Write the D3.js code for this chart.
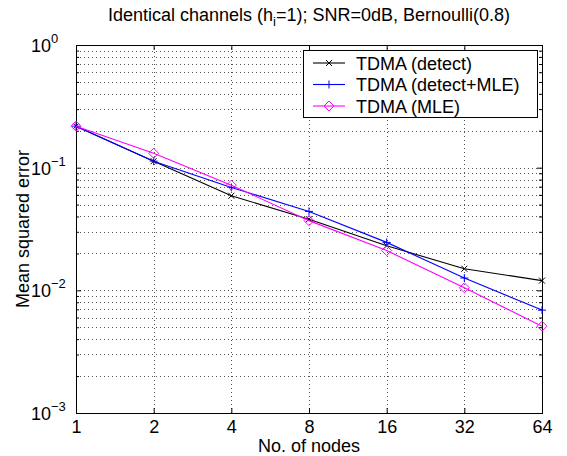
<!DOCTYPE html>
<html>
<head>
<meta charset="utf-8">
<script src="https://cdn.jsdelivr.net/npm/d3@7"></script>
<style>
  body { margin: 0; background: #fff; }
  svg { font-family: "Liberation Sans", Arial, Helvetica, sans-serif; }
  .axis path, .axis line { stroke: #000; }
</style>
</head>
<body>
<div id="chart"></div>
<script>
// data
const nodes = [1, 2, 4, 8, 16, 32, 64];
const mseDetect = [0.218, 0.113, 0.059, 0.038, 0.0231, 0.0150, 0.0120];
const mseDetectMle = [0.218, 0.113, 0.069, 0.044, 0.0246, 0.0126, 0.0069];
const mseMle = [0.218, 0.131, 0.072, 0.037, 0.0211, 0.0105, 0.0051];
const seriesNames = ['TDMA (detect)', 'TDMA (detect+MLE)', 'TDMA (MLE)'];
const yTicks = [1e-3, 1e-2, 1e-1, 1e0];
const yExponents = ['\u22123', '\u22122', '\u22121', '0'];

const width = 567, height = 456;
const margin = {top: 45, right: 25, bottom: 43, left: 76};
const fontSize = 18;

const svg = d3.select('#chart')
  .append('svg')
  .attr('width', width)
  .attr('height', height);

const x = d3.scaleLog().base(2)
  .domain([1, 64])
  .range([margin.left, width - margin.right]);

const y = d3.scaleLog()
  .domain([1e-3, 1])
  .range([height - margin.bottom, margin.top]);

const x0 = x.range()[0], x1 = x.range()[1];
const y0 = y.range()[0], y1 = y.range()[1];

// minor y values for the grid
const yMinor = [];
for (let e = -3; e < 0; e++) {
  for (let m = 2; m <= 9; m++) yMinor.push(m * Math.pow(10, e));
}

// grid
const grid = svg.append('g')
  .attr('stroke', '#555')
  .attr('stroke-width', 1)
  .attr('stroke-dasharray', '1,3');

grid.selectAll('.gx')
  .data(nodes.slice(1, -1))
  .enter()
  .append('line')
  .attr('x1', d => Math.round(x(d)) + 0.5)
  .attr('x2', d => Math.round(x(d)) + 0.5)
  .attr('y1', y0)
  .attr('y2', y1);

grid.selectAll('.gy')
  .data(yTicks.slice(1, -1).concat(yMinor))
  .enter()
  .append('line')
  .attr('x1', x0)
  .attr('x2', x1)
  .attr('y1', d => Math.round(y(d)) + 0.5)
  .attr('y2', d => Math.round(y(d)) + 0.5);

// axes with inward ticks on all sides
const bottom = svg.append('g')
  .attr('class', 'axis')
  .attr('transform', `translate(0,${y0})`)
  .call(d3.axisBottom(x).tickValues(nodes).tickFormat(d3.format('d')).tickSizeInner(-5).tickSizeOuter(0).tickPadding(7));

bottom.selectAll('text')
  .attr('font-size', fontSize)
  .attr('font-family', 'Liberation Sans, Arial, sans-serif')
  .attr('fill', '#000');

svg.append('g')
  .attr('class', 'axis')
  .attr('transform', `translate(0,${y1})`)
  .call(d3.axisTop(x).tickValues(nodes).tickFormat('').tickSizeInner(-5).tickSizeOuter(0));

svg.append('g')
  .attr('class', 'axis')
  .attr('transform', `translate(${x0},0)`)
  .call(d3.axisLeft(y).tickValues(yTicks).tickFormat('').tickSizeInner(-5).tickSizeOuter(0));

svg.append('g')
  .attr('class', 'axis')
  .attr('transform', `translate(${x0},0)`)
  .call(d3.axisLeft(y).tickValues(yMinor).tickFormat('').tickSizeInner(-3).tickSizeOuter(0))
  .select('.domain').remove();

svg.append('g')
  .attr('class', 'axis')
  .attr('transform', `translate(${x1},0)`)
  .call(d3.axisRight(y).tickValues(yTicks).tickFormat('').tickSizeInner(-5).tickSizeOuter(0));

svg.append('g')
  .attr('class', 'axis')
  .attr('transform', `translate(${x1},0)`)
  .call(d3.axisRight(y).tickValues(yMinor).tickFormat('').tickSizeInner(-3).tickSizeOuter(0))
  .select('.domain').remove();

// y tick labels as 10 with superscript exponent
const yLab = svg.append('g')
  .attr('font-size', fontSize)
  .attr('fill', '#000');

yTicks.forEach((t, i) => {
  const ty = y(t);
  yLab.append('text')
    .attr('x', 51)
    .attr('y', ty + 7)
    .attr('text-anchor', 'end')
    .text('10');
  yLab.append('text')
    .attr('x', 51)
    .attr('y', ty - 2)
    .attr('font-size', 13)
    .text(yExponents[i]);
});

// box border
svg.append('rect')
  .attr('x', x0 + 0.5)
  .attr('y', y1 + 0.5)
  .attr('width', x1 - x0)
  .attr('height', y0 - y1)
  .attr('fill', 'none')
  .attr('stroke', '#000');

// series
const series = [
  {name: seriesNames[0], values: mseDetect, color: '#000000', marker: 'x'},
  {name: seriesNames[1], values: mseDetectMle, color: '#0000ff', marker: '+'},
  {name: seriesNames[2], values: mseMle, color: '#ff00ff', marker: 'd'}
];

const line = d3.line()
  .x(d => x(d[0]))
  .y(d => y(d[1]));

function drawMarker(g, kind, cx, cy, color) {
  if (kind === 'x') {
    g.append('path')
      .attr('d', `M${cx - 3},${cy - 3}L${cx + 3},${cy + 3}M${cx - 3},${cy + 3}L${cx + 3},${cy - 3}`)
      .attr('stroke', color).attr('fill', 'none');
  } else if (kind === '+') {
    g.append('path')
      .attr('d', `M${cx - 4},${cy}L${cx + 4},${cy}M${cx},${cy - 4}L${cx},${cy + 4}`)
      .attr('stroke', color).attr('fill', 'none');
  } else {
    g.append('path')
      .attr('d', `M${cx},${cy - 5}L${cx + 5},${cy}L${cx},${cy + 5}L${cx - 5},${cy}Z`)
      .attr('stroke', color).attr('fill', 'none');
  }
}

const plot = svg.append('g');
series.forEach(s => {
  const pts = nodes.map((n, i) => [n, s.values[i]]);
  plot.append('path')
    .datum(pts)
    .attr('d', line)
    .attr('fill', 'none')
    .attr('stroke', s.color)
    .attr('stroke-width', 1.1);
  pts.forEach(p => drawMarker(plot, s.marker, x(p[0]), y(p[1]), s.color));
});

// legend
const leg = svg.append('g');
leg.append('rect')
  .attr('x', 303.5)
  .attr('y', 50.5)
  .attr('width', 234)
  .attr('height', 67)
  .attr('fill', '#fff')
  .attr('stroke', '#000');

series.forEach((s, i) => {
  const ly = 63 + i * 21.5;
  leg.append('line')
    .attr('x1', 313).attr('x2', 345)
    .attr('y1', ly).attr('y2', ly)
    .attr('stroke', s.color)
    .attr('stroke-width', 1.1);
  drawMarker(leg, s.marker, 329, ly, s.color);
  leg.append('text')
    .attr('x', 356)
    .attr('y', ly + 6.5)
    .attr('font-size', fontSize)
    .attr('fill', '#000')
    .text(s.name);
});

// title and axis labels
const title = svg.append('text')
  .attr('x', (x0 + x1) / 2)
  .attr('y', 21)
  .attr('text-anchor', 'middle')
  .attr('font-size', fontSize)
  .attr('fill', '#000');
title.append('tspan').text('Identical channels (h');
title.append('tspan').attr('font-size', 13).attr('dy', 5).text('i');
title.append('tspan').attr('dy', -5).text('=1); SNR=0dB, Bernoulli(0.8)');

svg.append('text')
  .attr('x', (x0 + x1) / 2)
  .attr('y', 452)
  .attr('text-anchor', 'middle')
  .attr('font-size', fontSize)
  .attr('fill', '#000')
  .text('No. of nodes');

svg.append('text')
  .attr('transform', `translate(29,${(y0 + y1) / 2}) rotate(-90)`)
  .attr('text-anchor', 'middle')
  .attr('font-size', fontSize)
  .attr('fill', '#000')
  .text('Mean squared error');
</script>
</body>
</html>
